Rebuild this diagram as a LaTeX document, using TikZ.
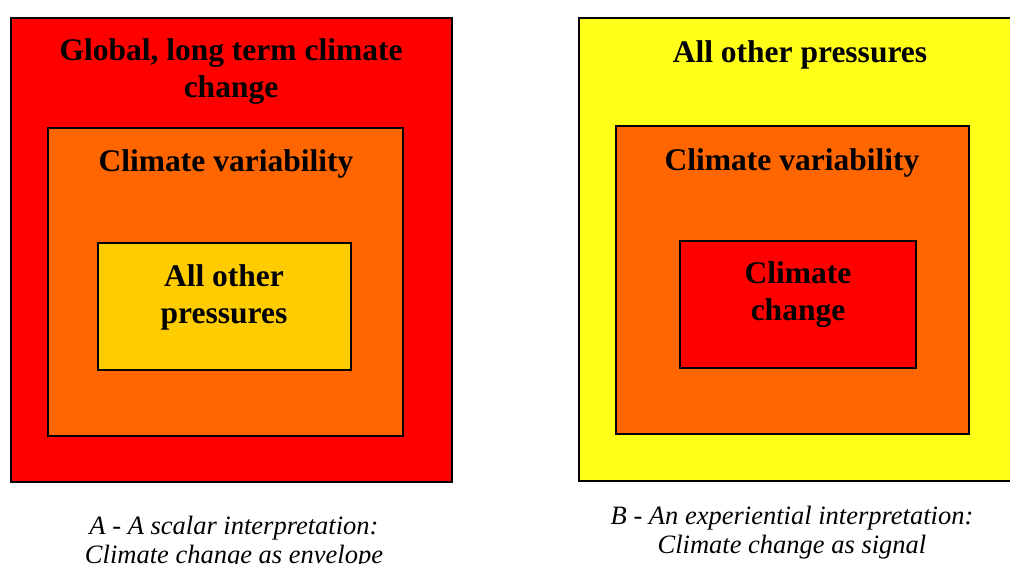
\documentclass[tikz,border=0pt]{standalone}
\usepackage{fontspec}
\setmainfont{Liberation Serif}
\definecolor{cred}{HTML}{FF0000}
\definecolor{corange}{HTML}{FF6600}
\definecolor{cgold}{HTML}{FFCC00}
\definecolor{cyellow}{HTML}{FFFF1A}
\begin{document}
\begin{tikzpicture}[x=1pt,y=-1pt,
  box/.style={draw=black,line width=1.6pt,anchor=north west,inner sep=0pt,outer sep=0pt},
  title/.style={font=\bfseries\fontsize{31.5}{37}\selectfont,align=center,inner sep=0pt},
  caption/.style={font=\itshape\fontsize{26.5}{29}\selectfont,align=center,inner sep=0pt}]
\useasboundingbox (0,0) rectangle (1010,563);
\begin{scope}
\clip (0,0) rectangle (1010,563);
% Panel A
\node[box,fill=cred,minimum width=441pt,minimum height=464pt] (aout) at (11,18) {};
\node[box,fill=corange,minimum width=355pt,minimum height=308pt,line width=1.3pt] (amid) at (48,128) {};
\node[box,fill=cgold,minimum width=253pt,minimum height=127pt,line width=1.3pt] (ain) at (98,243) {};
\node[title] (atitle) at (231,72) {Global, long term climate\\change};
\node[title] (amidt) at (226,164) {Climate variability};
\node[title] (aint) at (224,297) {All other\\pressures};
\node[caption] (acap) at (234,543) {A - A scalar interpretation:\\Climate change as envelope};
% Panel B
\node[box,fill=cyellow,minimum width=450pt,minimum height=463pt] (bout) at (579,18) {};
\node[box,fill=corange,minimum width=353pt,minimum height=308pt,line width=1.3pt] (bmid) at (616,126) {};
\node[box,fill=cred,minimum width=236pt,minimum height=127pt,line width=1.3pt] (bin) at (680,241) {};
\node[title] (btitle) at (800,55) {All other pressures};
\node[title] (bmidt) at (792,163) {Climate variability};
\node[title] (bint) at (798,295) {Climate\\change};
\node[caption] (bcap) at (792,533) {B - An experiential interpretation:\\Climate change as signal};
\end{scope}
\end{tikzpicture}
\end{document}
